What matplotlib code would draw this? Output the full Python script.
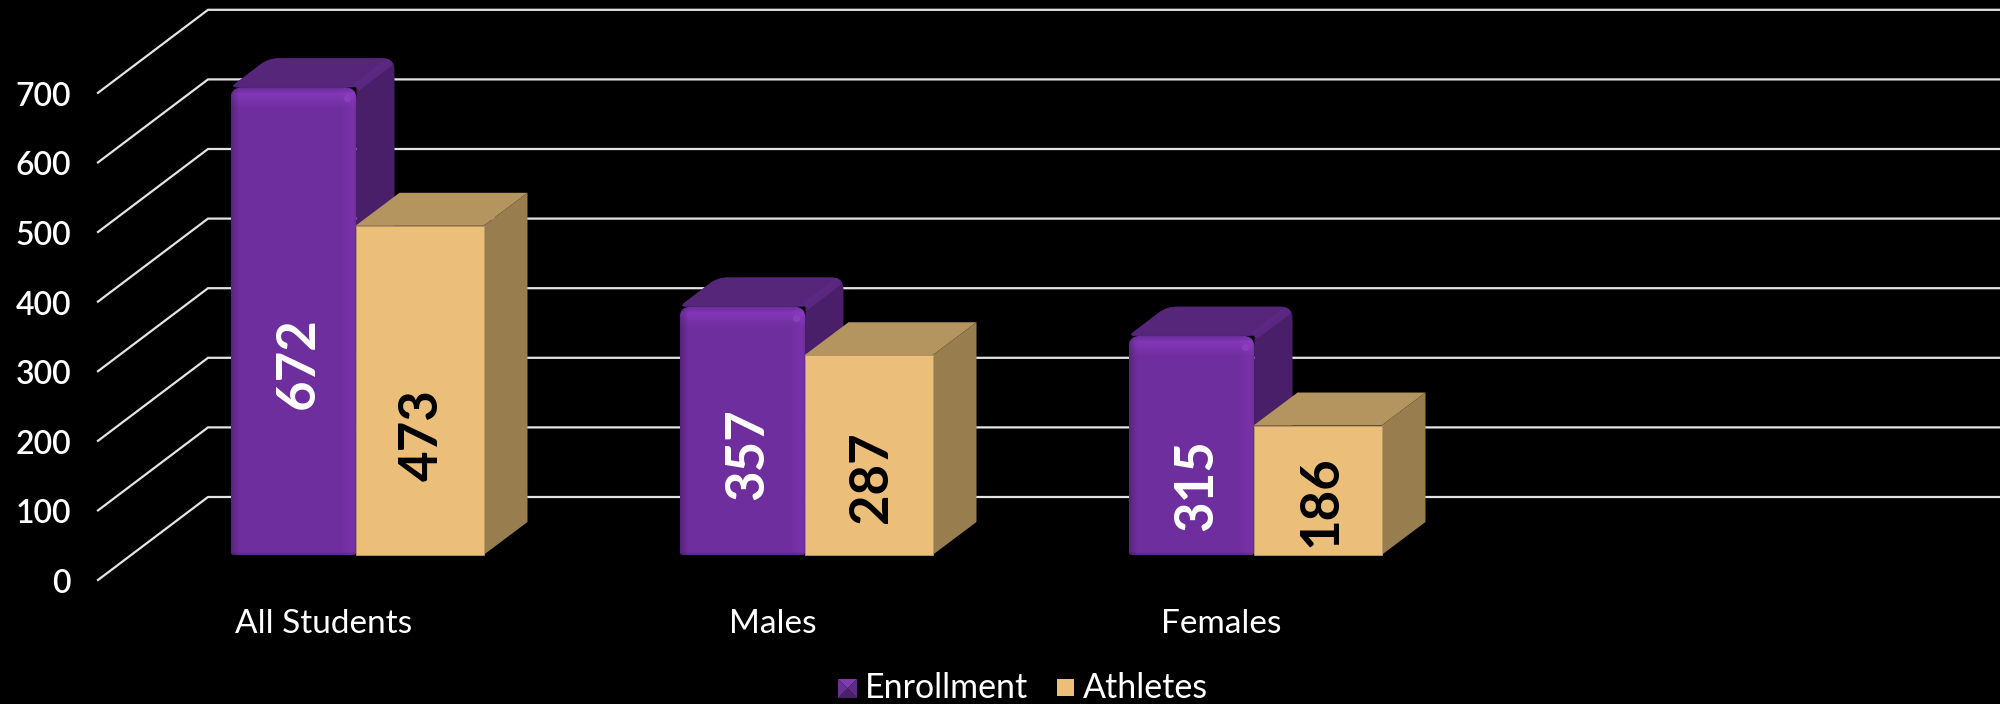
import matplotlib
matplotlib.use('Agg')
import matplotlib.pyplot as plt
from matplotlib.patches import PathPatch, Polygon, Rectangle
from matplotlib.path import Path
import numpy as np

categories = ['All Students', 'Males', 'Females']
enrollment = [672, 357, 315]
athletes = [473, 287, 186]
y_ticks = [0, 100, 200, 300, 400, 500, 600, 700]

plt.rcParams['font.family'] = ['Lato', 'DejaVu Sans']

# scale of the chart, in pixels of the 2000x704 picture
PX_CAT = 449.0    # one category
PX_VAL = 0.696    # one unit of value
X0_PX = 356.5     # category 0
Y0_PX = 555.0     # value 0 on the bar plane
W, H = 2000, 704


def px(x, y):
    # picture pixels -> data
    return (x - X0_PX) / PX_CAT, (Y0_PX - y) / PX_VAL


def ux(p):
    return p / PX_CAT


def uy(p):
    return p / PX_VAL


def round_path(pts, radii):
    # closed polygon with rounded corners, radius given in pixels
    a = np.array([[x * PX_CAT, y * PX_VAL] for x, y in pts])
    verts, codes = [], []
    n = len(a)
    for i in range(n):
        p, prev, nxt = a[i], a[i - 1], a[(i + 1) % n]
        r = radii[i]
        d1 = (prev - p) / np.linalg.norm(prev - p)
        d2 = (nxt - p) / np.linalg.norm(nxt - p)
        s, e = p + d1 * r, p + d2 * r
        verts.append(s)
        codes.append(Path.MOVETO if i == 0 else Path.LINETO)
        verts += [p, e]
        codes += [Path.CURVE3, Path.CURVE3]
    verts.append(verts[0])
    codes.append(Path.CLOSEPOLY)
    verts = np.array(verts) / [PX_CAT, PX_VAL]
    return Path(verts, codes)


def bevel_image(w, h):
    # shading of the rounded purple front face
    w, h = int(w), int(h)
    base = np.array([112, 47, 158], dtype=float)
    img = np.ones((h, w, 3)) * base
    xx = np.arange(w)
    yy = np.arange(h)
    left = np.clip(xx / 8.0, 0, 1) * 0.22 + 0.78
    right = 1 + 0.07 * np.clip((xx - (w - 16)) / 12.0, 0, 1)
    right = right * (1 - 0.12 * np.clip((xx - (w - 4)) / 4.0, 0, 1))
    top = np.where(yy < 6, 0.95 + 0.22 * yy / 6.0,
                   1.17 - 0.17 * np.clip((yy - 6) / 14.0, 0, 1))
    bottom = 1 - 0.2 * np.clip((yy - (h - 4)) / 4.0, 0, 1)
    img = img * (left * right)[None, :, None]
    img = img * (top * bottom)[:, None, None]
    return np.clip(img, 0, 255).astype(np.uint8)


fig = plt.figure(figsize=(W / 100, H / 100), dpi=100, facecolor='black')
ax = fig.add_axes([0, 0, 1, 1])
ax.set_facecolor('black')
x_left, y_bottom = px(0, H)
x_right, y_top = px(W, 0)
ax.set_xlim(x_left, x_right)
ax.set_ylim(y_bottom, y_top)
ax.set_autoscale_on(False)
ax.axis('off')

# gridlines: front end on the floor edge, then back wall
floor = uy(25)
depth_x, depth_y = ux(110), uy(83)
gx0 = px(98, 0)[0]
for v in y_ticks:
    y = v - floor
    ax.plot([gx0, gx0 + depth_x, x_right], [y, y + depth_y, y + depth_y],
            color='#E4E4E4', lw=1.6, solid_joinstyle='miter', zorder=1)
    ax.text(px(71, 0)[0], y + uy(-4), str(v), color='white', fontsize=23,
            fontweight='semibold', ha='right', va='center', zorder=5)

# bars
w_en = ux(126)
w_at = ux(128)
pd_x, pd_y = ux(38), uy(29)
td_x, td_y = ux(44), uy(33)
label_frac_en = [0.41, 0.405, 0.32]
label_frac_at = [0.365, 0.39, 0.42]

for i, cat in enumerate(categories):
    v = enrollment[i]
    x0, x1 = i - w_en, i
    # purple back part, rounded
    outline = [(x0, v), (x0 + pd_x, v + pd_y), (x1 + pd_x, v + pd_y), (x1 + pd_x, 0), (x1, 0), (x1, v)]
    back = PathPatch(round_path(outline, [6, 10, 12, 2, 2, 2]), fc='#4A1F69', ec='none', zorder=2)
    ax.add_patch(back)
    top = [(x0, v), (x0 + pd_x, v + pd_y), (x1 + pd_x, v + pd_y), (x1, v)]
    ax.add_patch(PathPatch(round_path(top, [6, 10, 12, 6]), fc='#56267B', ec='none', zorder=2.1))
    # soft ridge between top and side
    ridge, = ax.plot([x1, x1 + pd_x], [v, v + pd_y], color='#5D2A86', lw=6, alpha=0.8,
                     solid_capstyle='butt', zorder=2.15)
    ridge.set_clip_path(back)
    # purple front, rounded with soft edges
    front = [(x0, 0), (x0, v), (x1, v), (x1, 0)]
    p = PathPatch(round_path(front, [3, 12, 12, 3]), fc='none', ec='none', zorder=2.2)
    ax.add_patch(p)
    im = ax.imshow(bevel_image(126, v * PX_VAL), extent=(x0, x1, 0, v), aspect='auto',
                   origin='upper', zorder=2.2, interpolation='bilinear')
    im.set_clip_path(p)
    hx, hy = x1 - ux(10), v - uy(11)
    ax.plot([hx], [hy], 'o', ms=5, mfc='#8E42BE', mec='none', alpha=0.8, zorder=2.3)
    ax.text(i - w_en / 2 + ux(5), v * label_frac_en[i], str(v), color='white',
            fontsize=38, fontweight='bold', rotation=90, ha='center', va='center', zorder=5)

    # tan box
    v2 = athletes[i]
    x0, x1 = i - ux(1), i - ux(1) + w_at
    ax.add_patch(Polygon([(x0, v2), (x0 + td_x, v2 + td_y), (x1 + td_x, v2 + td_y), (x1, v2)],
                         fc='#B49560', ec='none', zorder=3))
    ax.add_patch(Polygon([(x1, v2), (x1 + td_x, v2 + td_y), (x1 + td_x, td_y), (x1, 0)],
                         fc='#987D4E', ec='none', zorder=3))
    ax.add_patch(Rectangle((x0, 0), w_at, v2, fc='#EBBE79', ec='#B89A63', lw=0.6, zorder=3.1))
    ax.text((x0 + x1) / 2 + ux(3), v2 * label_frac_at[i], str(v2), color='black',
            fontsize=38, fontweight='bold', rotation=90, ha='center', va='center', zorder=5)

    # category label
    ax.text(i + ux(-33), px(0, 624)[1], cat, color='white', fontsize=24,
            fontweight='normal', ha='center', va='center', zorder=5)

# legend
x0, y1 = px(838, 679)
x1, y0 = px(857, 698)
xm, ym = (x0 + x1) / 2, (y0 + y1) / 2
ax.add_patch(Polygon([(x0, y1), (x1, y1), (xm, ym)], fc='#7F3BB0', ec='none', zorder=5))
ax.add_patch(Polygon([(x1, y1), (x1, y0), (xm, ym)], fc='#5F2A86', ec='none', zorder=5))
ax.add_patch(Polygon([(x0, y0), (x1, y0), (xm, ym)], fc='#4A2168', ec='none', zorder=5))
ax.add_patch(Polygon([(x0, y1), (x0, y0), (xm, ym)], fc='#6B3096', ec='none', zorder=5))
x0, y1 = px(1057, 679)
x1, y0 = px(1074, 696)
ax.add_patch(Rectangle((x0, y0), x1 - x0, y1 - y0, fc='#EBBE79', ec='none', zorder=5))
ax.text(*px(865, 698), 'Enrollment', color='white', fontsize=24.5, fontweight='normal',
        ha='left', va='baseline', zorder=5)
ax.text(*px(1083, 698), 'Athletes', color='white', fontsize=24.5, fontweight='normal',
        ha='left', va='baseline', zorder=5)

plt.savefig('out.png', dpi=100, facecolor='black')
plt.close()
